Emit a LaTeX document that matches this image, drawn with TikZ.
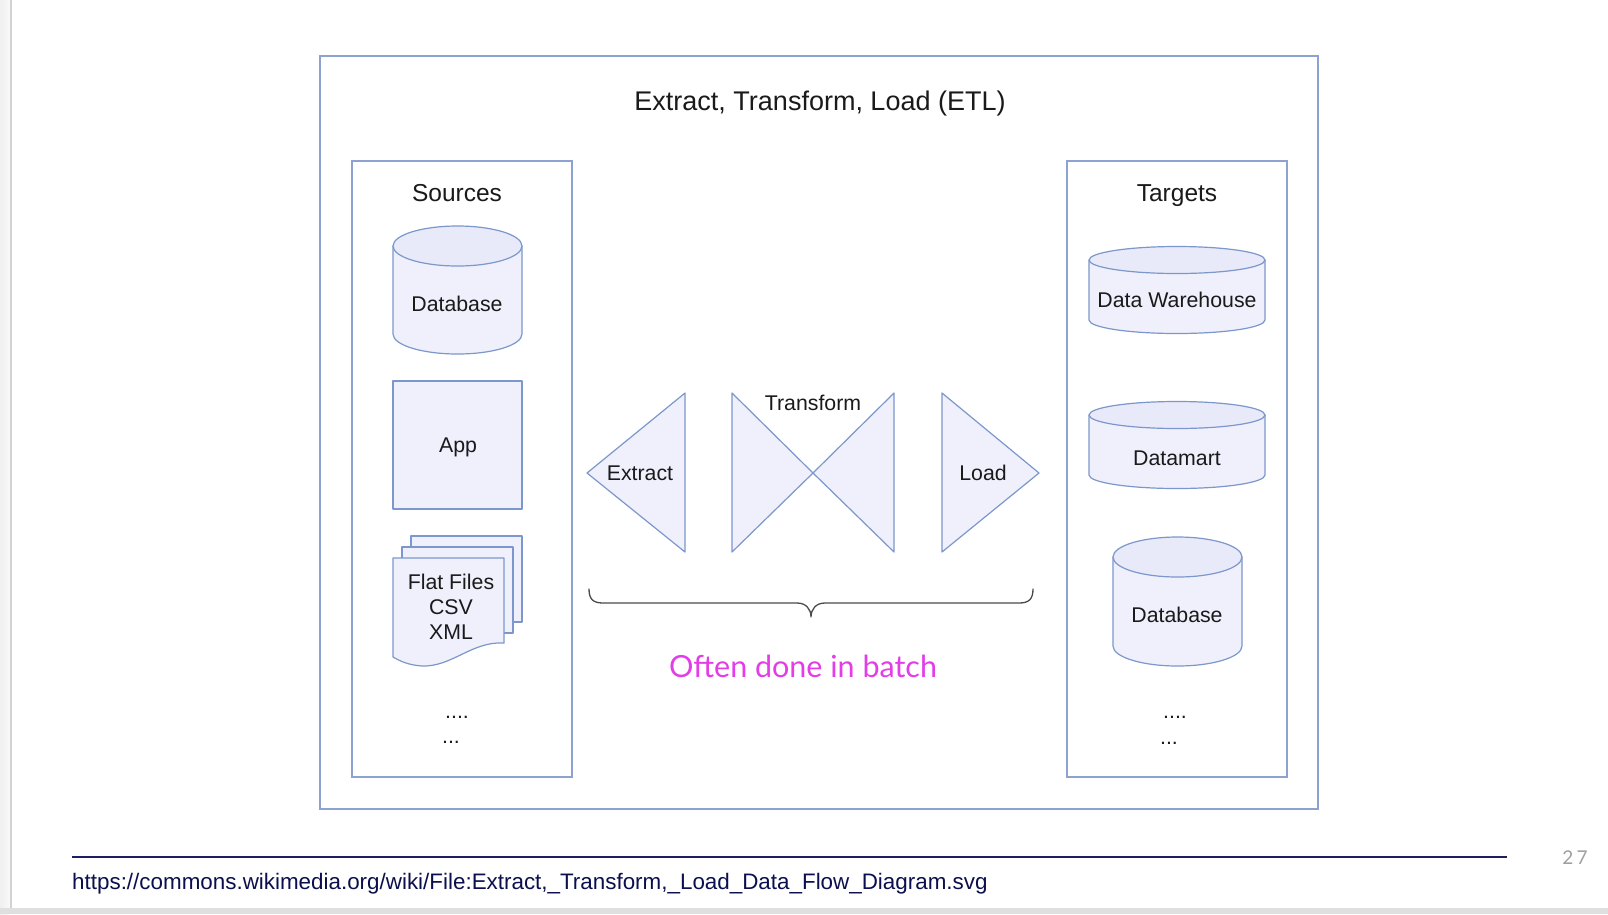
\documentclass[tikz,border=0pt]{standalone}
\usepackage{fontspec}
\setmainfont{Liberation Sans}
\newfontfamily\latofont{Lato}
\definecolor{frameblue}{HTML}{8EA2D2}
\definecolor{shapeblue}{HTML}{7C97CB}
\definecolor{shapefill}{HTML}{EFF0FC}
\definecolor{topfill}{HTML}{E8EAF9}
\definecolor{txt}{HTML}{1A1A1A}
\definecolor{navy}{HTML}{1B1F5C}
\definecolor{urlblue}{HTML}{0B0F4D}
\definecolor{magentatxt}{HTML}{E43CE8}
\definecolor{bracegray}{HTML}{4A4A4A}
\newcommand\fs[1]{\fontsize{#1}{#1}\selectfont}
\newcommand\mycyl[5]{% x1 x2 ytopcenter ybotcenter ry
  \pgfmathsetmacro\cx{(#1+#2)/2}\pgfmathsetmacro\rx{(#2-#1)/2}
  \filldraw[etlshape] (#1,#3) -- (#1,#4) arc[start angle=180,end angle=0,x radius=\rx,y radius=#5] -- (#2,#3) -- cycle;
  \filldraw[etlshape,fill=topfill] (\cx,#3) ellipse[x radius=\rx,y radius=#5];
}
\tikzset{
  etlshape/.style={draw=shapeblue,fill=shapefill,line width=1.2pt,line join=round},
  etlframe/.style={draw=frameblue,line width=1.5pt},
  lbl/.style={text=txt,font=\fs{21.3},inner sep=0pt},
  head/.style={text=txt,font=\fs{24.5},inner sep=0pt},
}
\begin{document}
\begin{tikzpicture}[x=1pt,y=-1pt]
\useasboundingbox (0,0) rectangle (1608,914);
\fill[white] (0,0) rectangle (1608,914);
% page edges
\shade[left color=gray!12,right color=gray!5] (0,0) rectangle (10,914);
\fill[gray!35] (10,0) rectangle (11.5,914);
\fill[gray!25] (0,908) rectangle (1608,914);
% outer frame
\draw[etlframe] (320,56) rectangle (1318,809);
\node[text=txt,font=\fs{27},inner sep=0pt] (title) at (820,104) {Extract, Transform, Load (ETL)};
% sources
\draw[etlframe] (352,161) rectangle (572,777);
\node[head] (sources) at (457,193) {Sources};
\mycyl{393}{522}{246}{334}{20}
\node[lbl] (srcdb) at (457,304) {Database};
\filldraw[etlshape] (393,381) rectangle (522,509);
\node[lbl] (app) at (458,447) {App};
\filldraw[etlshape] (411,536) rectangle (522,622);
\filldraw[etlshape] (402,547) rectangle (513,633);
\filldraw[etlshape] (393,558) -- (504,558) -- (504,643) .. controls (472,641) and (452,667) .. (422,666) .. controls (408,665) and (400,661) .. (393,657) -- cycle;
\node[lbl,align=center,font=\fontsize{21.3}{25}\selectfont] (flat) at (451,607) {Flat Files\\CSV\\XML};
\node[lbl] (sdots1) at (457,717) {....};
\node[lbl] (sdots2) at (451,742) {...};
% targets
\draw[etlframe] (1067,161) rectangle (1287,777);
\node[head] (targets) at (1177,196) {Targets};
\mycyl{1089}{1265}{260}{320}{13.5}
\node[lbl] (dw) at (1177,300) {Data Warehouse};
\mycyl{1089}{1265}{415}{475}{13.5}
\node[lbl] (dm) at (1177,458) {Datamart};
\mycyl{1113}{1242}{557}{646}{20}
\node[lbl] (tgtdb) at (1177,615) {Database};
\node[lbl] (tdots1) at (1175,717) {....};
\node[lbl] (tdots2) at (1169,743) {...};
% triangles
\filldraw[etlshape] (587,473) -- (685,393) -- (685,552) -- cycle;
\node[lbl] (extract) at (640,473) {Extract};
\filldraw[etlshape] (732,393) -- (813,473) -- (732,552) -- cycle;
\filldraw[etlshape] (894,393) -- (813,473) -- (894,552) -- cycle;
\node[lbl] (transform) at (813,403) {Transform};
\filldraw[etlshape] (942,393) -- (1039,473) -- (942,552) -- cycle;
\node[lbl] (load) at (983,473) {Load};
% brace
\draw[bracegray,line width=1.3pt,line cap=round,line join=round]
  (589,589) .. controls (589,599) and (593,603) .. (603,603) -- (797,603)
  .. controls (806,603) and (811,609) .. (811,617)
  .. controls (811,609) and (816,603) .. (825,603) -- (1019,603)
  .. controls (1029,603) and (1033,599) .. (1033,589);
\node[text=magentatxt,font=\latofont\fs{30.5},inner sep=0pt] (batch) at (803,666) {Often done in batch};
% footer
\draw[navy,line width=2.2pt] (72,857) -- (1507,857);
\node[anchor=west,text=urlblue,font=\fs{22.4},inner sep=0pt] (url) at (72,884) {https://commons.wikimedia.org/wiki/File:Extract,\_Transform,\_Load\_Data\_Flow\_Diagram.svg};
\node[text=gray!75,font=\latofont\fs{19},inner sep=0pt] (pagenum) at (1575,858) {2\,7};
\end{tikzpicture}
\end{document}
